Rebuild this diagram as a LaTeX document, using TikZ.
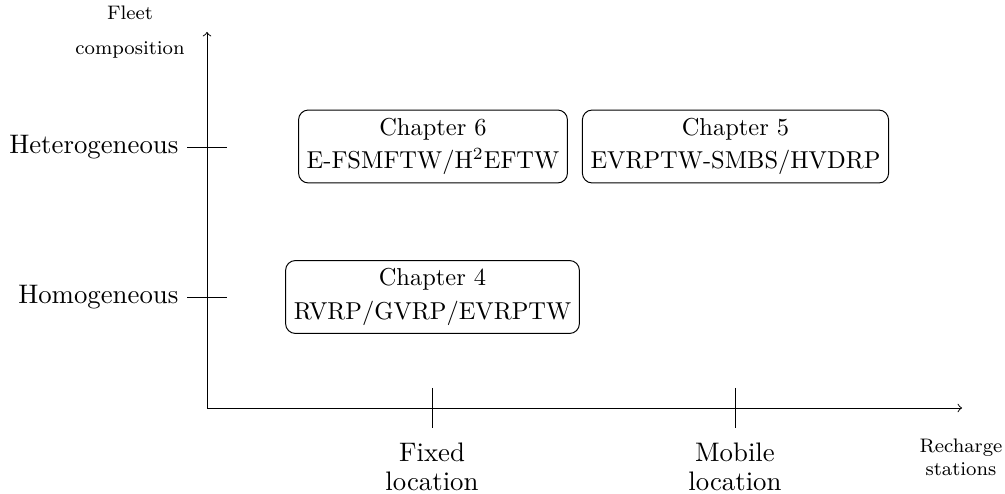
\documentclass[tikz,border=0pt]{standalone}
\usetikzlibrary{arrows}
\begin{document}
\begin{tikzpicture}[x=0.4088pt,y=-0.4088pt,
  axis/.style={->,line width=0.4pt},
  tick/.style={line width=0.4pt},
  axislabel/.style={font=\fontsize{10.95}{12}\selectfont,align=center},
  smalllabel/.style={font=\fontsize{8}{9.5}\selectfont,align=center},
  chapter/.style={draw,rounded corners=4pt,align=center,font=\fontsize{10}{13.6}\selectfont}]
  \useasboundingbox (0,0) rectangle (1005,494);

  % axes
  \coordinate (O) at (207,408);
  \coordinate (ytop) at (207,32);
  \coordinate (xend) at (962,408);
  \draw[axis] (O) -- (ytop);
  \draw[axis] (O) -- (xend);

  % ticks on the fleet axis
  \coordinate (het-l) at (187,147); \coordinate (het-r) at (227,147);
  \coordinate (hom-l) at (187,297); \coordinate (hom-r) at (227,297);
  \draw[tick] (het-l) -- (het-r);
  \draw[tick] (hom-l) -- (hom-r);
  \node[axislabel,anchor=east] (het) at (het-l) {Heterogeneous};
  \node[axislabel,anchor=east] (hom) at (hom-l) {Homogeneous};

  % ticks on the station axis
  \coordinate (fix-t) at (432,388); \coordinate (fix-b) at (432,428);
  \coordinate (mob-t) at (735,388); \coordinate (mob-b) at (735,428);
  \draw[tick] (fix-t) -- (fix-b);
  \draw[tick] (mob-t) -- (mob-b);
  \node[axislabel,anchor=north,yshift=-6*0.4088pt] (fix) at (fix-b) {Fixed\\location};
  \node[axislabel,anchor=north,yshift=-6*0.4088pt] (mob) at (mob-b) {Mobile\\location};

  % axis titles
  \node[smalllabel] (ytitle) at (130,32) {Fleet\\[4.5pt]composition};
  \node[smalllabel,anchor=north] (xtitle) at (961,430) {Recharge\\stations};

  % chapters
  \node[chapter] (ch6) at (433,146.5) {Chapter 6\\E-FSMFTW/H$^2$EFTW};
  \node[chapter] (ch5) at (735.5,146.5) {Chapter 5\\EVRPTW-SMBS/HVDRP};
  \node[chapter] (ch4) at (432.5,297) {Chapter 4\\RVRP/GVRP/EVRPTW};
\end{tikzpicture}
\end{document}
